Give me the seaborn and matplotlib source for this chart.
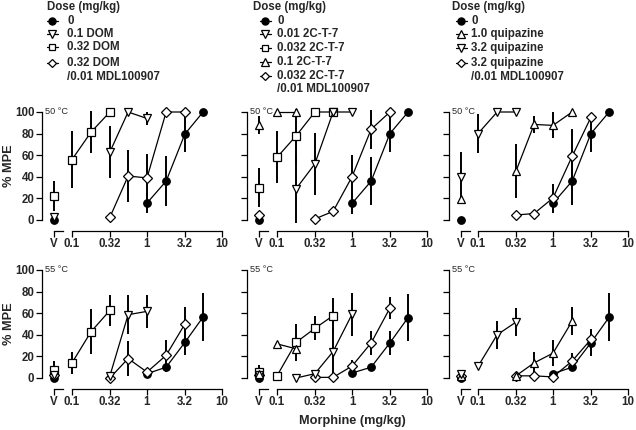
import numpy as np
import pandas as pd
import matplotlib
matplotlib.use("Agg")
import matplotlib.pyplot as plt
import seaborn as sns

sns.set_theme(style="ticks")
plt.rcParams["font.family"] = ["Liberation Sans", "DejaVu Sans"]
plt.rcParams["font.weight"] = "bold"

# ---------------- data (dose 0 = vehicle "V") ----------------
# DOM, 50 °C
dom50_morph_dose = [0, 1, 1.8, 3.2, 5.6]
dom50_morph_mpe = [0, 15.7, 36, 79.6, 100]
dom50_morph_sem = [0, 9, 23, 17, 0]
dom50_d01_dose = [0, 0.32, 0.56, 1]
dom50_d01_mpe = [3, 63, 100, 94]
dom50_d01_sem = [0, 24, 0, 6]
dom50_d032_dose = [0, 0.1, 0.18, 0.32]
dom50_d032_mpe = [22.5, 56, 81.5, 100]
dom50_d032_sem = [14, 26, 19, 0]
dom50_mdl_dose = [0.32, 0.56, 1, 1.8, 3.2]
dom50_mdl_mpe = [2.5, 40.7, 39, 100, 100]
dom50_mdl_sem = [0, 24, 22, 0, 0]

# 2C-T-7, 50 °C
ct50_morph_dose = [0, 1, 1.8, 3.2, 5.6]
ct50_morph_mpe = [0, 15.3, 36, 80, 100]
ct50_morph_sem = [0, 10, 22, 17, 0]
ct50_c001_dose = [0.18, 0.32, 0.56, 1]
ct50_c001_mpe = [29, 52, 100, 100]
ct50_c001_sem = [32, 29, 0, 0]
ct50_c0032_dose = [0, 0.1, 0.18, 0.32, 0.56]
ct50_c0032_mpe = [30, 58, 78, 100, 100]
ct50_c0032_sem = [18, 24, 25, 0, 0]
ct50_c01_dose = [0, 0.1, 0.18]
ct50_c01_mpe = [88, 100, 100]
ct50_c01_sem = [8, 0, 0]
ct50_mdl_dose = [0, 0.32, 0.56, 1, 1.8, 3.2]
ct50_mdl_mpe = [4.7, 1, 8, 40, 84, 100]
ct50_mdl_sem = [0, 0, 0, 20, 18, 0]

# quipazine, 50 °C
qp50_morph_dose = [0, 1, 1.8, 3.2, 5.6]
qp50_morph_mpe = [0, 15.5, 36, 80, 100]
qp50_morph_sem = [0, 9, 22, 17, 0]
qp50_q1_dose = [0, 0.32, 0.56, 1, 1.8]
qp50_q1_mpe = [19.5, 45, 88.5, 87.6, 100]
qp50_q1_sem = [0, 25, 8, 12, 0]
qp50_q32_dose = [0, 0.1, 0.18, 0.32]
qp50_q32_mpe = [39.6, 80, 100, 100]
qp50_q32_sem = [23, 18, 0, 0]
qp50_mdl_dose = [0.32, 0.56, 1, 1.8, 3.2]
qp50_mdl_mpe = [4.6, 6, 20.4, 59, 95]
qp50_mdl_sem = [0, 0, 13, 25, 0]

# DOM, 55 °C
dom55_morph_dose = [0, 1, 1.8, 3.2, 5.6]
dom55_morph_mpe = [0, 4, 10, 33, 56.5]
dom55_morph_sem = [0, 0, 4, 12, 22]
dom55_d01_dose = [0, 0.32, 0.56, 1]
dom55_d01_mpe = [3, 2, 58.6, 61.7]
dom55_d01_sem = [0, 0, 18, 15]
dom55_d032_dose = [0, 0.1, 0.18, 0.32]
dom55_d032_mpe = [7.7, 14, 43, 62.6]
dom55_d032_sem = [8, 10, 21, 14]
dom55_mdl_dose = [0, 0.32, 0.56, 1, 1.8, 3.2]
dom55_mdl_mpe = [3, 0, 18, 5.5, 21, 50]
dom55_mdl_sem = [0, 0, 16, 0, 14, 16]

# 2C-T-7, 55 °C
ct55_morph_dose = [0, 1, 1.8, 3.2, 5.6]
ct55_morph_mpe = [0, 4.6, 10, 32.5, 56]
ct55_morph_sem = [0, 0, 0, 11, 22]
ct55_c001_dose = [0, 0.18, 0.32, 0.56, 1]
ct55_c001_mpe = [3, 0, 4, 24.5, 59]
ct55_c001_sem = [0, 0, 0, 22, 20]
ct55_c0032_dose = [0, 0.1, 0.18, 0.32, 0.56]
ct55_c0032_mpe = [6, 2, 33, 46, 57.7]
ct55_c0032_sem = [6, 0, 17, 11, 16]
ct55_c01_dose = [0, 0.1, 0.18]
ct55_c01_mpe = [4, 31.6, 27]
ct55_c01_sem = [0, 0, 0]
ct55_mdl_dose = [0, 0.32, 0.56, 1, 1.8, 3.2]
ct55_mdl_mpe = [3, 0.6, 0.6, 11, 32.5, 64.7]
ct55_mdl_sem = [0, 0, 0, 6, 11, 10]

# quipazine, 55 °C
qp55_morph_dose = [0, 1, 1.8, 3.2, 5.6]
qp55_morph_mpe = [0, 4, 10, 32.6, 56.3]
qp55_morph_sem = [0, 0, 3, 12, 22]
qp55_q1_dose = [0, 0.32, 0.56, 1, 1.8]
qp55_q1_mpe = [2, 2, 14, 23, 52.6]
qp55_q1_sem = [0, 0, 10, 12, 13]
qp55_q32_dose = [0, 0.1, 0.18, 0.32]
qp55_q32_mpe = [3.4, 10.8, 40, 51.7]
qp55_q32_sem = [0, 0, 13, 13]
qp55_mdl_dose = [0, 0.32, 0.56, 1, 1.8, 3.2]
qp55_mdl_mpe = [2, 2, 2, 1, 15.7, 35.7]
qp55_mdl_sem = [0, 0, 0, 0, 7, 10]

x_ticks = [0.1, 0.32, 1, 3.2, 10]
x_ticklabels = ["0.1", "0.32", "1", "3.2", "10"]
y_ticks = [0, 20, 40, 60, 80, 100]

legend_dom = ["0", "0.1 DOM", "0.32 DOM", "0.32 DOM\n/0.01 MDL100907"]
legend_ct = ["0", "0.01 2C-T-7", "0.032 2C-T-7", "0.1 2C-T-7", "0.032 2C-T-7\n/0.01 MDL100907"]
legend_qp = ["0", "1.0 quipazine", "3.2 quipazine", "3.2 quipazine\n/0.01 MDL100907"]

# ---------------- styling ----------------
STY = {
    "o": dict(marker="o", markersize=5.4, markerfacecolor="black"),
    "v": dict(marker="v", markersize=6.4, markerfacecolor="white"),
    "^": dict(marker="^", markersize=6.4, markerfacecolor="white"),
    "s": dict(marker="s", markersize=5.2, markerfacecolor="white"),
    "D": dict(marker="D", markersize=4.6, markerfacecolor="white"),
}

panels = [
    (0, 0, "50 °C", [
        (dom50_morph_dose, dom50_morph_mpe, dom50_morph_sem, "o"),
        (dom50_mdl_dose, dom50_mdl_mpe, dom50_mdl_sem, "D"),
        (dom50_d032_dose, dom50_d032_mpe, dom50_d032_sem, "s"),
        (dom50_d01_dose, dom50_d01_mpe, dom50_d01_sem, "v"),
    ]),
    (1, 0, "50 °C", [
        (ct50_morph_dose, ct50_morph_mpe, ct50_morph_sem, "o"),
        (ct50_mdl_dose, ct50_mdl_mpe, ct50_mdl_sem, "D"),
        (ct50_c0032_dose, ct50_c0032_mpe, ct50_c0032_sem, "s"),
        (ct50_c001_dose, ct50_c001_mpe, ct50_c001_sem, "v"),
        (ct50_c01_dose, ct50_c01_mpe, ct50_c01_sem, "^"),
    ]),
    (2, 0, "50 °C", [
        (qp50_morph_dose, qp50_morph_mpe, qp50_morph_sem, "o"),
        (qp50_mdl_dose, qp50_mdl_mpe, qp50_mdl_sem, "D"),
        (qp50_q1_dose, qp50_q1_mpe, qp50_q1_sem, "^"),
        (qp50_q32_dose, qp50_q32_mpe, qp50_q32_sem, "v"),
    ]),
    (0, 1, "55 °C", [
        (dom55_morph_dose, dom55_morph_mpe, dom55_morph_sem, "o"),
        (dom55_mdl_dose, dom55_mdl_mpe, dom55_mdl_sem, "D"),
        (dom55_d032_dose, dom55_d032_mpe, dom55_d032_sem, "s"),
        (dom55_d01_dose, dom55_d01_mpe, dom55_d01_sem, "v"),
    ]),
    (1, 1, "55 °C", [
        (ct55_morph_dose, ct55_morph_mpe, ct55_morph_sem, "o"),
        (ct55_mdl_dose, ct55_mdl_mpe, ct55_mdl_sem, "D"),
        (ct55_c0032_dose, ct55_c0032_mpe, ct55_c0032_sem, "s"),
        (ct55_c001_dose, ct55_c001_mpe, ct55_c001_sem, "v"),
        (ct55_c01_dose, ct55_c01_mpe, ct55_c01_sem, "^"),
    ]),
    (2, 1, "55 °C", [
        (qp55_morph_dose, qp55_morph_mpe, qp55_morph_sem, "o"),
        (qp55_mdl_dose, qp55_mdl_mpe, qp55_mdl_sem, "D"),
        (qp55_q1_dose, qp55_q1_mpe, qp55_q1_sem, "^"),
        (qp55_q32_dose, qp55_q32_mpe, qp55_q32_sem, "v"),
    ]),
]

W, H = 636, 430
fig = plt.figure(figsize=(W / 100, H / 100), dpi=100)

yaxis_px = [42, 247, 449]
log_left_px = [72, 277, 478]
log_width_px = 150
v_width_px = 23
row_bottom_px = [230.8, 388.8]
ax_height_px = 124.2
YLIM = (-10, 105)

TICK_FS = 8.3
LW = 0.9


def style_common(ax):
    ax.set_facecolor("none")
    ax.tick_params(axis="both", direction="out", length=4, width=0.9,
                   color="black", labelsize=TICK_FS, pad=1.5)
    for lab in ax.get_xticklabels() + ax.get_yticklabels():
        lab.set_fontweight("bold")


for col, row, temp, series in panels:
    bottom = (H - row_bottom_px[row]) / H
    height = ax_height_px / H
    axV = fig.add_axes([yaxis_px[col] / W, bottom, v_width_px / W, height])
    axL = fig.add_axes([log_left_px[col] / W, bottom, log_width_px / W, height])

    for k, (dose, mpe, sem, mk) in enumerate(series):
        d = np.asarray(dose, float)
        m = np.asarray(mpe, float)
        e = np.asarray(sem, float)
        isv = d == 0
        z = 3 + k
        dfc = pd.DataFrame({"dose": d[~isv], "mpe": m[~isv]})
        has_e = e[~isv] > 0
        axL.vlines(dfc["dose"][has_e], (m[~isv] - e[~isv])[has_e],
                   (m[~isv] + e[~isv])[has_e], colors="black", linewidth=1.4,
                   zorder=2, clip_on=False)
        sns.lineplot(data=dfc, x="dose", y="mpe", ax=axL, color="black",
                     linewidth=LW, markeredgecolor="black", markeredgewidth=0.9,
                     estimator=None, sort=False, legend=False, clip_on=False,
                     zorder=z, **STY[mk])
        if isv.any():
            dfv = pd.DataFrame({"x": [0.0] * int(isv.sum()), "mpe": m[isv]})
            ev = e[isv]
            if (ev > 0).any():
                axV.vlines(dfv["x"][ev > 0], (m[isv] - ev)[ev > 0],
                           (m[isv] + ev)[ev > 0], colors="black",
                           linewidth=1.4, zorder=2, clip_on=False)
            sns.lineplot(data=dfv, x="x", y="mpe", ax=axV, color="black",
                         linewidth=0, markeredgecolor="black",
                         markeredgewidth=0.9, estimator=None, legend=False,
                         clip_on=False, zorder=z, **STY[mk])

    axV.set_xlim(-1, 1)
    axV.set_ylim(*YLIM)
    axV.set_xticks([0])
    axV.set_xticklabels(["V"])
    axV.set_yticks(y_ticks)
    if col == 0:
        axV.set_yticklabels([str(t) for t in y_ticks])
    else:
        axV.set_yticklabels([])
    axV.spines["left"].set_bounds(0, 100)
    axV.spines["bottom"].set_bounds(0, 0.8)
    axV.spines["top"].set_visible(False)
    axV.spines["right"].set_visible(False)
    for s in ("left", "bottom"):
        axV.spines[s].set_linewidth(0.9)
        axV.spines[s].set_color("black")
    axV.set_xlabel("")
    axV.set_ylabel("")
    style_common(axV)
    axV.text(-0.74, 100, temp, fontsize=6.6, fontweight="normal",
             ha="left", va="center", clip_on=False)

    axL.set_xscale("log")
    axL.set_xlim(0.1, 10)
    axL.set_ylim(*YLIM)
    axL.set_xticks(x_ticks)
    axL.set_xticklabels(x_ticklabels)
    axL.xaxis.set_minor_locator(matplotlib.ticker.NullLocator())
    axL.set_yticks([])
    for s in ("left", "top", "right"):
        axL.spines[s].set_visible(False)
    axL.spines["bottom"].set_linewidth(0.9)
    axL.spines["bottom"].set_color("black")
    axL.set_xlabel("")
    axL.set_ylabel("")
    style_common(axL)

fig.text(9 / W, 1 - 166 / H, "% MPE", rotation=90, ha="center", va="center",
         fontsize=9.2, fontweight="bold")
fig.text(9 / W, 1 - 324 / H, "% MPE", rotation=90, ha="center", va="center",
         fontsize=9.2, fontweight="bold")
fig.text(352 / W, 1 - 421 / H, "Morphine (mg/kg)", ha="center", va="center",
         fontsize=9.2, fontweight="bold")

ov = fig.add_axes([0, 0, 1, 1])
ov.set_xlim(0, W)
ov.set_ylim(H, 0)
ov.axis("off")
ov.set_zorder(-1)

LEG_FS = 8.3
legend_specs = [
    (47, 52, 67, legend_dom, ["o", "v", "s", "D"], [21, 34, 47, 63]),
    (253, 265, 277, legend_ct, ["o", "v", "s", "^", "D"], [21, 34, 48, 62, 76]),
    (452, 461, 471, legend_qp, ["o", "^", "v", "D"], [21, 34, 48, 63]),
]
for tx0, hx, tx, labels, mks, ys in legend_specs:
    ov.text(tx0, 7, "Dose (mg/kg)", fontsize=LEG_FS, fontweight="bold",
            ha="left", va="center")
    for lab, mk, y in zip(labels, mks, ys):
        ov.plot([hx - 5.5, hx + 5.5], [y, y], color="black", linewidth=LW)
        st = dict(STY[mk])
        st["markersize"] = st["markersize"] * 0.95
        ov.plot([hx], [y], color="black", markeredgecolor="black",
                markeredgewidth=0.9, linestyle="none", **st)
        lines = lab.split("\n")
        for i, ln in enumerate(lines):
            ov.text(tx, y + i * 13.5, ln, fontsize=LEG_FS, fontweight="bold",
                    ha="left", va="center")

fig.savefig("out.png", dpi=100)
